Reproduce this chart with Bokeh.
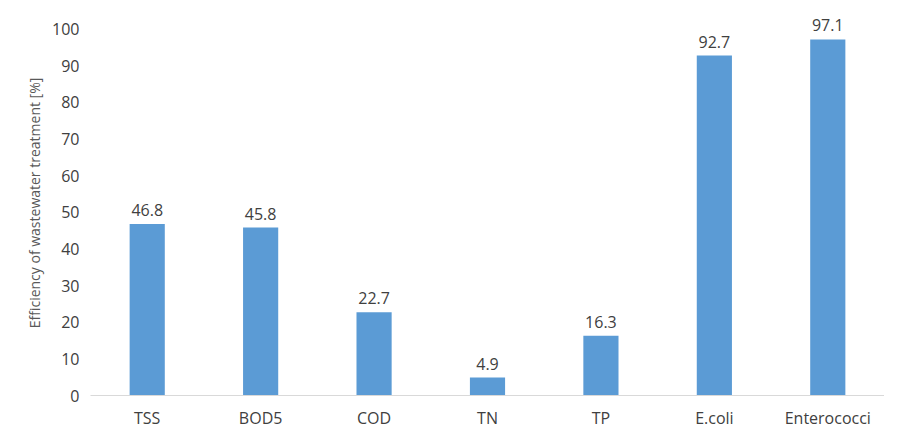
from bokeh.plotting import figure
from bokeh.models import ColumnDataSource, LabelSet
from bokeh.core.properties import value
from bokeh.embed import file_html
from bokeh.resources import INLINE

categories = ["TSS", "BOD5", "COD", "TN", "TP", "E.coli", "Enterococci"]
values = [46.8, 45.8, 22.7, 4.9, 16.3, 92.7, 97.1]
labels = ["46.8", "45.8", "22.7", "4.9", "16.3", "92.7", "97.1"]

source = ColumnDataSource(data=dict(cat=categories, val=values, lab=labels))

# extra headroom above 100 so the top data label is not clipped
p = figure(x_range=categories, y_range=(0, 105), width=884, height=431,
           output_backend="svg", toolbar_location=None, tools="",
           min_border_left=90, min_border_right=0, min_border_top=10, min_border_bottom=24)
p.vbar(x="cat", top="val", width=0.31, source=source, fill_color="#5B9BD5", line_color=None)

p.add_layout(LabelSet(x="cat", y="val", text="lab", source=source, y_offset=8,
                      text_align="center", text_font=value("Open Sans"), text_font_size="16px",
                      text_color="#404040"))

p.outline_line_color = None
p.xgrid.grid_line_color = None
p.ygrid.grid_line_color = None
p.yaxis.ticker = list(range(0, 101, 10))
p.yaxis.axis_line_color = None
p.yaxis.major_tick_line_color = None
p.yaxis.minor_tick_line_color = None
p.yaxis.axis_label = "Efficiency of wastewater treatment [%]"
p.yaxis.axis_label_text_font = "Open Sans"
p.yaxis.axis_label_text_font_style = "normal"
p.yaxis.axis_label_text_font_size = "14px"
p.yaxis.axis_label_text_color = "#595959"
p.xaxis.axis_line_color = "#d9d9d9"
p.xaxis.major_tick_line_color = None
p.xaxis.minor_tick_line_color = None
for ax in (p.xaxis, p.yaxis):
    ax.major_label_text_font = "Open Sans"
    ax.major_label_text_font_size = "16px"
    ax.major_label_text_color = "#404040"

open("out.html", "w").write(file_html(p, INLINE))
